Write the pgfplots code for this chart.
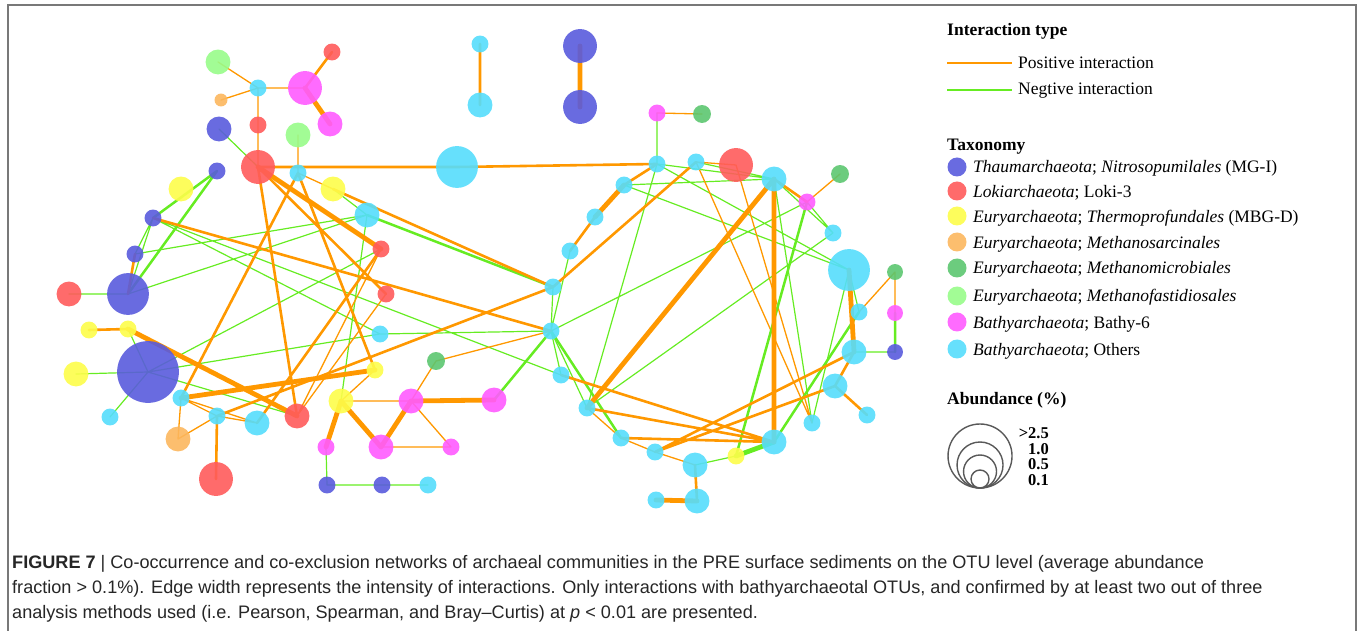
\documentclass[border=0pt]{standalone}
\usepackage{pgfplots}
\pgfplotsset{compat=1.18}
\usepackage{pgfplotstable}
\usepackage{fontspec}
\setmainfont{Liberation Serif}
\newfontfamily\capfont{Liberation Sans}

% taxonomy colours
\definecolor{cThaum}{RGB}{89,91,221}
\definecolor{cLoki}{RGB}{255,91,91}
\definecolor{cMBGD}{RGB}{253,253,74}
\definecolor{cSarc}{RGB}{252,183,94}
\definecolor{cMicro}{RGB}{92,198,112}
\definecolor{cFast}{RGB}{152,252,138}
\definecolor{cBathy}{RGB}{255,91,255}
\definecolor{cOther}{RGB}{85,221,252}
% interaction colours
\definecolor{ePos}{RGB}{255,152,0}
\definecolor{eNeg}{RGB}{102,236,34}
\definecolor{frameGray}{RGB}{120,120,120}

% OTU nodes: position, radius, taxon
\pgfplotstableread{
x y r c
218 62 12.5 l
258 88 8.5 c
221 100 6.5 o
305 88 17 m
332 52 8.5 r
330 124 12.5 m
219 129 12.5 b
258 125 8.5 r
298 135 12.5 l
258 167 17 r
298 173 8.5 c
217 171 8.5 b
181 189 12.5 y
333 189 12.5 y
367 215 12.5 c
153 218 8.5 b
381 249 8.5 r
135 254 8.5 b
457 167 21 c
69 294 12.5 r
128 294 21 b
89 330 8.5 y
128 329 8.5 y
148 372 31 b
76 374 12.5 y
110 417 8.5 c
181 398 8.5 c
217 416 8.5 c
178 439 12.5 o
257 423 12.5 c
297 416 12.5 r
216 479 17 r
386 294 8.5 r
380 334 8.5 c
436 361 9 g
375 370 8.5 y
341 401 12.5 y
411 401 12.5 m
494 400 12.5 m
326 447 8.5 m
381 447 12.5 m
451 447 8.5 m
327 485 8.5 b
382 485 8.5 b
428 485 8.5 c
480 44 8.5 c
480 105 12.5 c
580 46 17 b
580 107 17 b
657 113 8.5 m
702 114 9 g
657 164 8.5 c
696 162 8.5 c
736 165 17 r
774 179 12.5 c
840 174 9 g
807 202 8.5 m
624 185 8.5 c
595 217 8.5 c
570 251 8.5 c
833 233 8.5 c
849 270 21 c
553 287 8.5 c
551 331 8.5 c
561 375 8.5 c
587 408 8.5 c
621 438 8.5 c
655 452 8.5 c
695 465 12.5 c
736 456 8.5 y
774 442 12.5 c
656 500 8.5 c
697 501 12.5 c
812 423 8.5 c
859 312 8.5 c
854 352 12.5 c
835 386 12.5 c
867 415 8.5 c
895 272 8 g
895 313 8 m
895 352 8 b
}\otus

\pgfplotsset{
  pos/.style={color=ePos, line width=#1, no marks, line cap=round},
  neg/.style={color=eNeg, line width=#1, no marks, line cap=round},
}
\tikzset{otu/.style={draw opacity=0, fill=#1, fill opacity=0.9}}

\begin{document}
\begin{tikzpicture}[x=1bp,y=1bp]
\path[use as bounding box] (0,0) rectangle (1360,631);
\begin{axis}[
  at={(0,0)}, anchor=south west,
  scale only axis, width=1360bp, height=631bp,
  xmin=0, xmax=1360, ymin=0, ymax=631,
  y dir=reverse, hide axis, clip=false,
  unbounded coords=jump,
]
% frame
\draw[frameGray, line width=1.5bp] (axis cs:8,650) -- (axis cs:8,5) -- (axis cs:1356,5) -- (axis cs:1356,650);

% negative interactions, thin
\addplot[neg=1.2bp] coordinates {
(219,129) (258,167) (nan,nan)
(153,218) (135,254) (nan,nan)
(153,218) (128,294) (nan,nan)
(153,218) (561,375) (nan,nan)
(153,218) (380,334) (nan,nan)
(135,254) (367,215) (nan,nan)
(128,294) (367,215) (nan,nan)
(128,294) (69,294) (nan,nan)
(128,329) (148,372) (nan,nan)
(148,372) (381,249) (nan,nan)
(148,372) (380,334) (nan,nan)
(148,372) (297,416) (nan,nan)
(148,372) (76,374) (nan,nan)
(148,372) (110,417) (nan,nan)
(333,189) (367,215) (nan,nan)
(367,215) (341,401) (nan,nan)
(380,334) (551,331) (nan,nan)
(326,447) (327,485) (nan,nan)
(327,485) (382,485) (nan,nan)
(382,485) (428,485) (nan,nan)
(657,164) (657,113) (nan,nan)
(570,251) (551,331) (nan,nan)
(553,287) (551,331) (nan,nan)
(657,164) (587,408) (nan,nan)
(551,331) (561,375) (nan,nan)
(551,331) (587,408) (nan,nan)
(551,331) (807,202) (nan,nan)
(587,408) (833,233) (nan,nan)
(695,465) (736,456) (nan,nan)
(774,179) (812,423) (nan,nan)
(849,270) (812,423) (nan,nan)
(849,270) (859,312) (nan,nan)
(854,352) (895,352) (nan,nan)
(807,202) (833,233) (nan,nan)
(774,179) (833,233) (nan,nan)
(657,164) (774,179) (nan,nan)
(696,162) (774,179) (nan,nan)
(624,185) (774,179) (nan,nan)
(657,164) (849,270) (nan,nan)
(624,185) (849,270)
};
% positive interactions, thin
\addplot[pos=1.3bp] coordinates {
(218,62) (258,88) (nan,nan)
(221,100) (258,88) (nan,nan)
(258,88) (305,88) (nan,nan)
(258,88) (258,125) (nan,nan)
(258,125) (258,167) (nan,nan)
(298,135) (298,173) (nan,nan)
(298,173) (333,189) (nan,nan)
(181,398) (178,439) (nan,nan)
(181,398) (217,416) (nan,nan)
(181,398) (257,423) (nan,nan)
(217,416) (178,439) (nan,nan)
(217,416) (257,423) (nan,nan)
(297,416) (381,249) (nan,nan)
(297,416) (386,294) (nan,nan)
(375,370) (341,401) (nan,nan)
(341,401) (411,401) (nan,nan)
(411,401) (451,447) (nan,nan)
(381,447) (451,447) (nan,nan)
(411,401) (436,361) (nan,nan)
(436,361) (551,331) (nan,nan)
(657,113) (702,114) (nan,nan)
(587,408) (621,438) (nan,nan)
(621,438) (655,452) (nan,nan)
(655,452) (695,465) (nan,nan)
(736,165) (812,423) (nan,nan)
(696,162) (812,423) (nan,nan)
(859,312) (895,272) (nan,nan)
(895,272) (895,313) (nan,nan)
(807,202) (840,174) (nan,nan)
(696,162) (736,165)
};
% negative interactions, medium and strong
\addplot[neg=2.5bp] coordinates {
(217,171) (153,218) (nan,nan)
(217,171) (128,294) (nan,nan)
(367,215) (553,287) (nan,nan)
(494,400) (551,331) (nan,nan)
(551,331) (621,438) (nan,nan)
(736,456) (807,202) (nan,nan)
(774,442) (859,312) (nan,nan)
(895,313) (895,352)
};
\addplot[neg=4.8bp] coordinates {(736,456) (774,442)};
% positive interactions, medium
\addplot[pos=2.6bp] coordinates {
(305,88) (332,52) (nan,nan)
(258,167) (457,167) (nan,nan)
(457,167) (657,164) (nan,nan)
(258,167) (386,294) (nan,nan)
(258,167) (297,416) (nan,nan)
(298,173) (181,398) (nan,nan)
(298,173) (375,370) (nan,nan)
(135,254) (128,294) (nan,nan)
(153,218) (551,331) (nan,nan)
(89,330) (128,329) (nan,nan)
(217,416) (216,479) (nan,nan)
(217,416) (553,287) (nan,nan)
(257,423) (381,249) (nan,nan)
(333,189) (553,287) (nan,nan)
(480,44) (480,105) (nan,nan)
(657,164) (624,185) (nan,nan)
(595,217) (570,251) (nan,nan)
(553,287) (696,162) (nan,nan)
(561,375) (774,442) (nan,nan)
(587,408) (774,442) (nan,nan)
(621,438) (774,442) (nan,nan)
(655,452) (854,352) (nan,nan)
(655,452) (835,386) (nan,nan)
(854,352) (835,386) (nan,nan)
(835,386) (867,415) (nan,nan)
(774,179) (807,202) (nan,nan)
(695,465) (697,501)
};
% positive interactions, strong
\addplot[pos=4.8bp] coordinates {
(305,88) (330,124) (nan,nan)
(258,167) (381,249) (nan,nan)
(128,329) (297,416) (nan,nan)
(181,398) (375,370) (nan,nan)
(341,401) (326,447) (nan,nan)
(341,401) (381,447) (nan,nan)
(411,401) (381,447) (nan,nan)
(411,401) (494,400) (nan,nan)
(580,46) (580,107) (nan,nan)
(624,185) (595,217) (nan,nan)
(587,408) (774,179) (nan,nan)
(774,442) (774,179) (nan,nan)
(849,270) (854,352) (nan,nan)
(656,500) (697,501)
};

% OTU nodes
\addplot[scatter, only marks, mark=*,
  point meta=explicit symbolic,
  scatter/classes={
    b={mark=*, otu=cThaum}, r={mark=*, otu=cLoki}, y={mark=*, otu=cMBGD}, o={mark=*, otu=cSarc},
    g={mark=*, otu=cMicro}, l={mark=*, otu=cFast}, m={mark=*, otu=cBathy}, c={mark=*, otu=cOther}},
  visualization depends on={\thisrow{r} \as \rad},
  scatter/@pre marker code/.append style={/tikz/mark size=\rad},
] table[x=x, y=y, meta=c] {\otus};

% legend: interaction type
\node[anchor=base west, inner sep=0, font=\bfseries\fontsize{17.5bp}{20bp}\selectfont] at (axis cs:947,36) {Interaction type};
\draw[ePos, line width=1.6bp] (axis cs:947,63) -- (axis cs:1012,63);
\node[anchor=base west, inner sep=0, font=\fontsize{17.5bp}{20bp}\selectfont] at (axis cs:1018,69) {Positive interaction};
\draw[eNeg, line width=1.6bp] (axis cs:947,90) -- (axis cs:1012,90);
\node[anchor=base west, inner sep=0, font=\fontsize{17.5bp}{20bp}\selectfont] at (axis cs:1018,95) {Negtive interaction};

% legend: taxonomy
\node[anchor=base west, inner sep=0, font=\bfseries\fontsize{17.5bp}{20bp}\selectfont] at (axis cs:947,151) {Taxonomy};
\fill[cThaum, opacity=0.9] (axis cs:957,167) circle[radius=9.5bp];
\fill[cLoki, opacity=0.9] (axis cs:957,191) circle[radius=9.5bp];
\fill[cMBGD, opacity=0.9] (axis cs:957,216) circle[radius=9.5bp];
\fill[cSarc, opacity=0.9] (axis cs:957,242) circle[radius=9.5bp];
\fill[cMicro, opacity=0.9] (axis cs:957,268) circle[radius=9.5bp];
\fill[cFast, opacity=0.9] (axis cs:957,296) circle[radius=9.5bp];
\fill[cBathy, opacity=0.9] (axis cs:957,322) circle[radius=9.5bp];
\fill[cOther, opacity=0.9] (axis cs:957,349) circle[radius=9.5bp];
\begin{scope}[every node/.style={anchor=base west, inner sep=0, font=\fontsize{17.5bp}{20bp}\selectfont}]
\node at (axis cs:973,173) {\textit{Thaumarchaeota}; \textit{Nitrosopumilales} (MG-I)};
\node at (axis cs:973,198) {\textit{Lokiarchaeota}; Loki-3};
\node at (axis cs:973,223) {\textit{Euryarchaeota}; \textit{Thermoprofundales} (MBG-D)};
\node at (axis cs:973,249) {\textit{Euryarchaeota}; \textit{Methanosarcinales}};
\node at (axis cs:973,274) {\textit{Euryarchaeota}; \textit{Methanomicrobiales}};
\node at (axis cs:973,302) {\textit{Euryarchaeota}; \textit{Methanofastidiosales}};
\node at (axis cs:973,329) {\textit{Bathyarchaeota}; Bathy-6};
\node at (axis cs:973,356) {\textit{Bathyarchaeota}; Others};
\end{scope}

% legend: abundance
\node[anchor=base west, inner sep=0, font=\bfseries\fontsize{17.5bp}{20bp}\selectfont] at (axis cs:947,405) {Abundance (\%)};
\draw[black!65, line width=1.4bp] (axis cs:980,456) circle[radius=32bp];
\draw[black!65, line width=1.4bp] (axis cs:980,465) circle[radius=23bp];
\draw[black!65, line width=1.4bp] (axis cs:980,471.5) circle[radius=16.5bp];
\draw[black!65, line width=1.4bp] (axis cs:980,479) circle[radius=9bp];
\begin{scope}[every node/.style={anchor=base east, inner sep=0, font=\bfseries\fontsize{16.5bp}{18bp}\selectfont}]
\node at (axis cs:1049,438) {>2.5};
\node at (axis cs:1049,454) {1.0};
\node at (axis cs:1049,469) {0.5};
\node at (axis cs:1049,485) {0.1};
\end{scope}

% caption
\begin{scope}[every node/.style={anchor=base west, inner sep=0, text=black!85, font=\capfont\fontsize{18.1bp}{22bp}\selectfont}]
\node at (axis cs:12,568) {\textbf{FIGURE 7} | Co-occurrence and co-exclusion networks of archaeal communities in the PRE surface sediments on the OTU level (average abundance};
\node at (axis cs:12,593) {fraction > 0.1\%). Edge width represents the intensity of interactions. Only interactions with bathyarchaeotal OTUs, and confirmed by at least two out of three};
\node at (axis cs:12,618) {analysis methods used (i.e. Pearson, Spearman, and Bray–Curtis) at \textit{p} < 0.01 are presented.};
\end{scope}
\end{axis}
\end{tikzpicture}
\end{document}
